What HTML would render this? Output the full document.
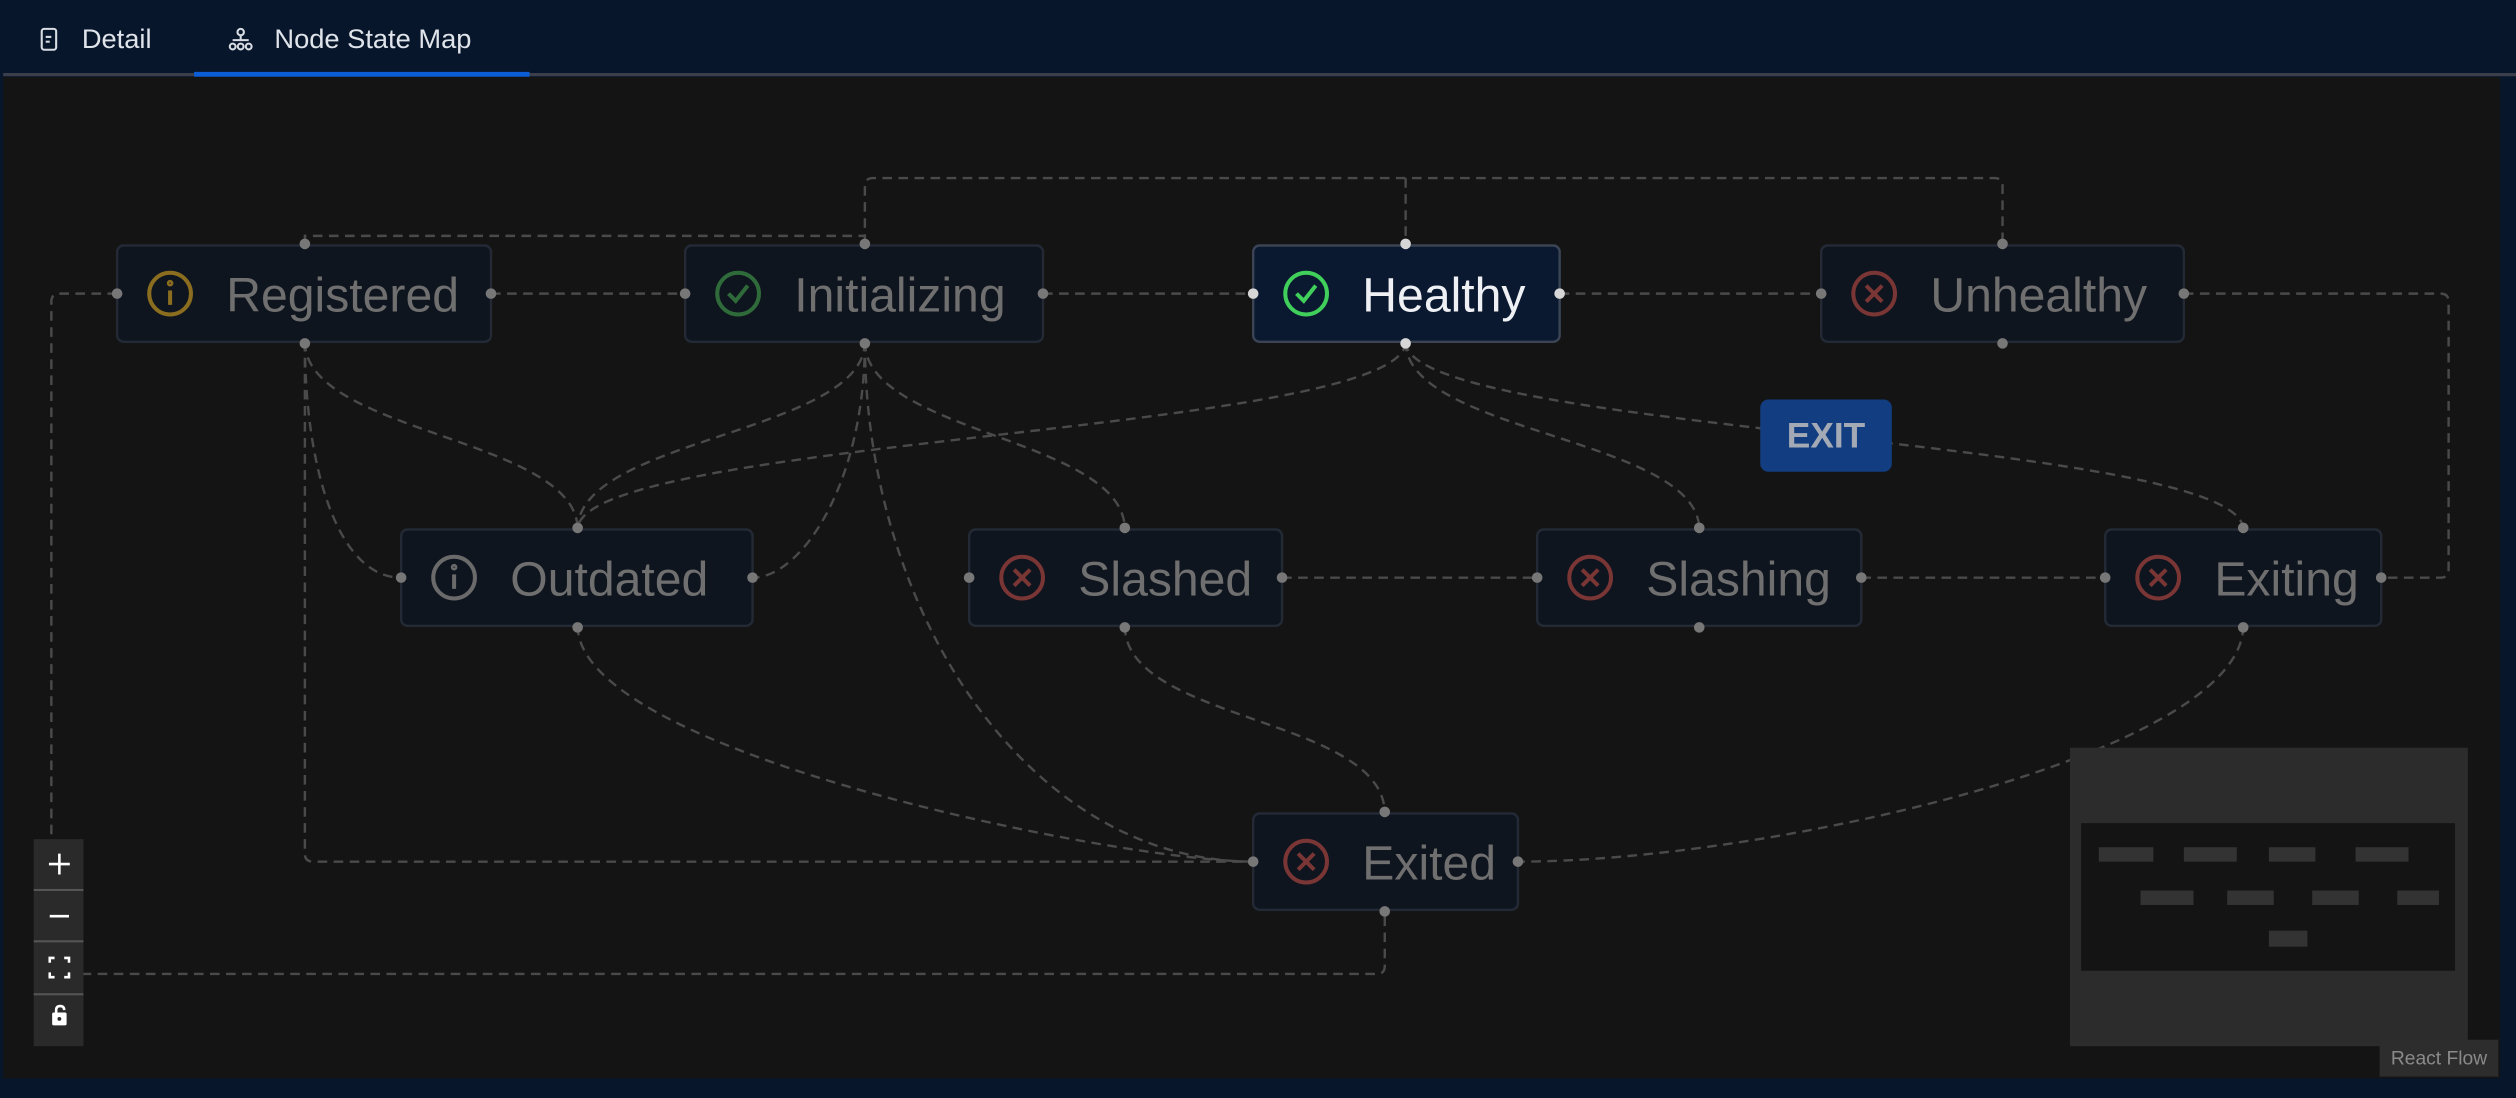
<!DOCTYPE html>
<html><head><meta charset="utf-8"><style>
html,body{margin:0;padding:0;background:#08162b;width:2516px;height:1098px;overflow:hidden}
svg{display:block}
text{font-family:"Liberation Sans",sans-serif}
</style></head><body>
<svg width="2516" height="1098" viewBox="0 0 1568 684.3" preserveAspectRatio="none" xmlns="http://www.w3.org/2000/svg">
<rect x="0" y="0" width="1568" height="684.3" fill="#08162b"/>
<rect x="2" y="48" width="1556" height="624" fill="#141414"/>
<rect x="2" y="45.5" width="1566" height="2" fill="#3a3f4b"/>
<rect x="121" y="44.8" width="209" height="3" fill="#0b5ed7"/>
<!-- tabs -->
<g fill="none" stroke="#d8dce3" stroke-width="1.3">
<rect x="26" y="18" width="9" height="13" rx="1.5"/>
<line x1="28.5" y1="23" x2="32" y2="23"/><line x1="28.5" y1="26" x2="31" y2="26"/>
<circle cx="150" cy="20" r="2"/><line x1="150" y1="22" x2="150" y2="25"/><line x1="145" y1="25" x2="155" y2="25"/>
<circle cx="145" cy="29" r="1.8"/><circle cx="150" cy="29" r="1.8"/><circle cx="155" cy="29" r="1.8"/>
</g>
<text x="51" y="30" font-size="17" fill="#dfe3ea">Detail</text>
<text x="171" y="30" font-size="17" fill="#dfe3ea">Node State Map</text>
<!-- edges -->
<g fill="none" stroke="#4a4a4a" stroke-width="1.5" stroke-dasharray="6 4">
<path d="M306,183 H427"/><path d="M650,183 H781"/><path d="M972,183 H1135"/>
<path d="M799,360 H958"/><path d="M1160,360 H1312"/>
<path d="M190,152 V147 H539"/>
<path d="M539,152 V116 Q539,111 544,111 H1243 Q1248,111 1248,116 V152"/>
<path d="M876,111 V152"/>
<path d="M73,183 H37 Q32,183 32,188 V602 Q32,607 37,607 H858 Q863,607 863,602 V567"/>
<path d="M1361,183 H1521 Q1526,183 1526,188 V355 Q1526,360 1521,360 H1484"/>
<path d="M190,213 V532 Q190,537 195,537 H781"/>
<path d="M190,213 C190,270 360,273 360,330"/>
<path d="M190,213 C190,290 210,360 250,360"/>
<path d="M539,213 C539,270 360,273 360,330"/>
<path d="M539,213 C539,300 500,360 469,360"/>
<path d="M539,213 C539,270 701,273 701,330"/>
<path d="M539,213 C539,380 640,537 781,537"/>
<path d="M876,213 C876,270 360,273 360,330"/>
<path d="M876,213 C876,270 1059,273 1059,330"/>
<path d="M876,213 C876,270 1398,273 1398,330"/>
<path d="M360,390 C360,470 700,537 781,537"/>
<path d="M701,390 C701,450 863,447 863,507"/>
<path d="M1398,390 C1398,470 1100,537 946,537"/>
</g>
<!-- EXIT label -->
<rect x="1097" y="249" width="82" height="45" rx="5" fill="#123d80"/>
<text x="1138" y="279" font-size="22" font-weight="bold" fill="#a3aab6" text-anchor="middle">EXIT</text>
<!-- nodes -->
<g stroke="#232a35" stroke-width="1.5" fill="#0f151e">
<rect x="73" y="153" width="233" height="60" rx="4"/>
<rect x="427" y="153" width="223" height="60" rx="4"/>
<rect x="1135" y="153" width="226" height="60" rx="4"/>
<rect x="250" y="330" width="219" height="60" rx="4"/>
<rect x="604" y="330" width="195" height="60" rx="4"/>
<rect x="958" y="330" width="202" height="60" rx="4"/>
<rect x="1312" y="330" width="172" height="60" rx="4"/>
<rect x="781" y="507" width="165" height="60" rx="4"/>
</g>
<rect x="781" y="153" width="191" height="60" rx="4" fill="#0a1830" stroke="#3a4455" stroke-width="1.5"/>
<g font-size="30" fill="#6f6f6f">
<text x="141" y="194">Registered</text>
<text x="495" y="194">Initializing</text>
<text x="849" y="194" fill="#eef0f4">Healthy</text>
<text x="1203" y="194">Unhealthy</text>
<text x="318" y="371">Outdated</text>
<text x="672" y="371">Slashed</text>
<text x="1026" y="371">Slashing</text>
<text x="1380" y="371">Exiting</text>
<text x="849" y="548">Exited</text>
</g>
<!-- icons -->
<g fill="none" stroke-width="2.5">
<circle cx="106" cy="183" r="13" stroke="#8b6d1f"/>
<circle cx="460" cy="183" r="13" stroke="#2f6b3a"/>
<circle cx="814" cy="183" r="13" stroke="#3fcf5a"/>
<circle cx="1168" cy="183" r="13" stroke="#7a3535"/>
<circle cx="283" cy="360" r="13" stroke="#6a6a6a"/>
<circle cx="637" cy="360" r="13" stroke="#7a3535"/>
<circle cx="991" cy="360" r="13" stroke="#7a3535"/>
<circle cx="1345" cy="360" r="13" stroke="#7a3535"/>
<circle cx="814" cy="537" r="13" stroke="#7a3535"/>
<line x1="106" y1="181" x2="106" y2="190" stroke="#8b6d1f"/><circle cx="106" cy="176.5" r="0.8" stroke="#8b6d1f"/>
<line x1="283" y1="358" x2="283" y2="367" stroke="#6a6a6a"/><circle cx="283" cy="353.5" r="0.8" stroke="#6a6a6a"/>
<path d="M454,183 L458.5,187.5 L466,178" stroke="#2f6b3a"/>
<path d="M808,183 L812.5,187.5 L820,178" stroke="#3fcf5a"/>
<g stroke="#7a3535"><path d="M1163,178 l10,10 m0,-10 l-10,10"/><path d="M632,355 l10,10 m0,-10 l-10,10"/><path d="M986,355 l10,10 m0,-10 l-10,10"/><path d="M1340,355 l10,10 m0,-10 l-10,10"/><path d="M809,532 l10,10 m0,-10 l-10,10"/></g>
</g>
<!-- handles -->
<g fill="#777">
<circle cx="190" cy="152" r="3.3"/><circle cx="190" cy="214" r="3.3"/><circle cx="73" cy="183" r="3.3"/><circle cx="306" cy="183" r="3.3"/>
<circle cx="539" cy="152" r="3.3"/><circle cx="539" cy="214" r="3.3"/><circle cx="427" cy="183" r="3.3"/><circle cx="650" cy="183" r="3.3"/>
<circle cx="1248" cy="152" r="3.3"/><circle cx="1248" cy="214" r="3.3"/><circle cx="1135" cy="183" r="3.3"/><circle cx="1361" cy="183" r="3.3"/>
<circle cx="360" cy="329" r="3.3"/><circle cx="360" cy="391" r="3.3"/><circle cx="250" cy="360" r="3.3"/><circle cx="469" cy="360" r="3.3"/>
<circle cx="701" cy="329" r="3.3"/><circle cx="701" cy="391" r="3.3"/><circle cx="604" cy="360" r="3.3"/><circle cx="799" cy="360" r="3.3"/>
<circle cx="1059" cy="329" r="3.3"/><circle cx="1059" cy="391" r="3.3"/><circle cx="958" cy="360" r="3.3"/><circle cx="1160" cy="360" r="3.3"/>
<circle cx="1398" cy="329" r="3.3"/><circle cx="1398" cy="391" r="3.3"/><circle cx="1312" cy="360" r="3.3"/><circle cx="1484" cy="360" r="3.3"/>
<circle cx="863" cy="506" r="3.3"/><circle cx="863" cy="568" r="3.3"/><circle cx="781" cy="537" r="3.3"/><circle cx="946" cy="537" r="3.3"/>
</g>
<g fill="#d6d6d6"><circle cx="876" cy="152" r="3.3"/><circle cx="876" cy="214" r="3.3"/><circle cx="781" cy="183" r="3.3"/><circle cx="972" cy="183" r="3.3"/></g>
<!-- controls -->
<rect x="21" y="523" width="31" height="129" fill="#2a2a2a"/>
<g fill="#555"><rect x="21" y="554" width="31" height="1.3"/><rect x="21" y="586" width="31" height="1.3"/><rect x="21" y="619" width="31" height="1.3"/></g>
<g stroke="#fff" stroke-width="1.6" fill="none">
<path d="M37,532 V545 M30.5,538.5 H43.5"/>
<path d="M31,571 H43"/>
<path d="M31,600 V597 H34 M40,597 H43 V600 M43,606 V609 H40 M34,609 H31 V606"/>
<path d="M35,632 V629.5 Q35,627 37.5,627 Q40,627 40,629.5"/>
</g>
<rect x="32.5" y="631" width="9" height="8" rx="1" fill="#fff"/><circle cx="37" cy="635" r="1.2" fill="#2a2a2a"/>
<!-- minimap -->
<rect x="1290" y="466" width="248" height="186" fill="#2c2c2c"/>
<rect x="1297" y="513" width="233" height="92" fill="#141414"/>
<g fill="#333">
<rect x="1308" y="528" width="34" height="9"/><rect x="1361" y="528" width="33" height="9"/><rect x="1414" y="528" width="29" height="9"/><rect x="1468" y="528" width="33" height="9"/>
<rect x="1334" y="555" width="33" height="9"/><rect x="1388" y="555" width="29" height="9"/><rect x="1441" y="555" width="29" height="9"/><rect x="1494" y="555" width="26" height="9"/>
<rect x="1414" y="580" width="24" height="10"/>
</g>
<rect x="1483" y="648" width="74" height="23" fill="#2d2d2d"/>
<text x="1520" y="663.5" font-size="12" fill="#8a8a8a" text-anchor="middle">React Flow</text>
</svg>
</body></html>
